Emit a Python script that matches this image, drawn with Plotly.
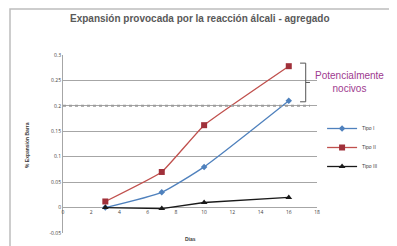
import plotly.graph_objects as go

dias = [3, 7, 10, 16]
tipo_i = [0.0, 0.03, 0.08, 0.21]
tipo_ii = [0.012, 0.07, 0.162, 0.278]
tipo_iii = [0.0, -0.002, 0.01, 0.02]
x_ticks = [0, 2, 4, 6, 8, 10, 12, 14, 16, 18]
y_ticks = [-0.05, 0, 0.05, 0.1, 0.15, 0.2, 0.25, 0.3]
y_tick_labels = ["-0.05", "0", "0.05", "0.1", "0.15", "0.2", "0.25", "0.3"]
limite = 0.2

fig = go.Figure()
fig.add_trace(go.Scatter(x=dias, y=tipo_i, name="Tipo I", mode="lines+markers",
                         line=dict(color="#4F81BD", width=1.3, shape="spline", smoothing=0.5),
                         marker=dict(symbol="diamond", size=5, color="#4F81BD")))
fig.add_trace(go.Scatter(x=dias, y=tipo_ii, name="Tipo II", mode="lines+markers",
                         line=dict(color="#C0504D", width=1.3, shape="spline", smoothing=0.3),
                         marker=dict(symbol="square", size=6, color="#A0303A")))
fig.add_trace(go.Scatter(x=dias, y=tipo_iii, name="Tipo III", mode="lines+markers",
                         line=dict(color="#1a1a1a", width=1.3),
                         marker=dict(symbol="triangle-up", size=6, color="#1a1a1a")))

# threshold dotted line
fig.add_shape(type="line", x0=0, x1=17.5, y0=limite, y1=limite,
              line=dict(color="#9a9a9a", width=2, dash="dot"), layer="above")
# bracket
bc = "#555555"
fig.add_shape(type="line", x0=17.2, x1=17.2, y0=0.208, y1=0.284, line=dict(color=bc, width=1))
fig.add_shape(type="line", x0=16.8, x1=17.2, y0=0.284, y1=0.284, line=dict(color=bc, width=1))
fig.add_shape(type="line", x0=16.8, x1=17.2, y0=0.208, y1=0.208, line=dict(color=bc, width=1))
fig.add_shape(type="line", x0=17.2, x1=17.5, y0=0.246, y1=0.246, line=dict(color=bc, width=1))

# outer frame (top/left visible, right/bottom run off the page)
fig.add_shape(type="rect", xref="paper", yref="paper", x0=-53/254, x1=1.35, y0=-0.1, y1=1 + 46/178,
              line=dict(color="#bdbdbd", width=1.5), layer="below")

fig.add_annotation(text="Potencialmente<br>nocivos", x=17.75, y=0.246, xanchor="left", yanchor="middle",
                   showarrow=False, align="center", font=dict(color="#9E3A8F", size=10, family="Liberation Sans"))
fig.add_annotation(text="<b>Expansión provocada por la reacción álcali - agregado</b>", xref="paper", yref="paper",
                   x=(200 - 63) / 254, y=1 + (55 - 18) / 178, xanchor="center", yanchor="middle", showarrow=False,
                   font=dict(size=10, color="#595959", family="Liberation Sans"))
fig.add_annotation(text="<b>% Expansión Barra</b>", xref="paper", yref="paper", textangle=-90,
                   x=(27 - 63) / 254, y=(233 - 145) / 178, xanchor="center", yanchor="middle", showarrow=False,
                   font=dict(size=5, color="#404040", family="Liberation Sans"))
fig.add_annotation(text="<b>Días</b>", xref="paper", yref="paper",
                   x=(190 - 63) / 254, y=-(239 - 233) / 178, xanchor="center", yanchor="middle", showarrow=False,
                   font=dict(size=5, color="#404040", family="Liberation Sans"))

# page body has an 8px margin, so the figure is sized/offset to compensate
fig.update_layout(
    width=389, height=238,
    margin=dict(l=55, r=80, t=47, b=13, autoexpand=False),
    paper_bgcolor="white", plot_bgcolor="white",
    showlegend=True,
    legend=dict(x=1.02, y=(233 - 114) / 178, xanchor="left", yanchor="top",
                font=dict(size=5, color="#404040", family="Liberation Sans"),
                itemwidth=30, tracegroupgap=0, bgcolor="rgba(0,0,0,0)"),
    xaxis=dict(range=[0, 18], tickvals=x_ticks, ticktext=[str(v) for v in x_ticks],
               showgrid=False, zeroline=False, showline=False, anchor="free",
               position=25 / 178, tickfont=dict(size=5, color="#404040"), ticks=""),
    yaxis=dict(range=[-0.05, 0.3], tickvals=y_ticks, ticktext=y_tick_labels,
               showgrid=True, gridcolor="#a6a6a6", gridwidth=1, zeroline=False,
               showline=True, linecolor="#a6a6a6", tickfont=dict(size=5, color="#404040"),
               ticks=""),
)

fig.write_html("out.html")
